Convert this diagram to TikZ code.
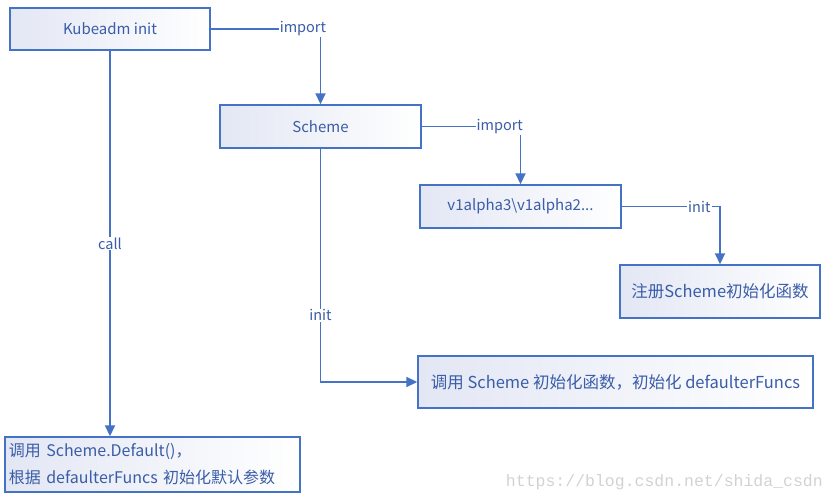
\documentclass[tikz,border=0pt]{standalone}
\usepackage{fontspec}
\setmainfont{Noto Sans CJK SC}
\newfontfamily\wmfont{Liberation Mono}
\usetikzlibrary{arrows.meta}
\definecolor{lineblue}{HTML}{4472C4}
\definecolor{textblue}{HTML}{3A5DA8}
\definecolor{boxfill}{HTML}{E3E7F4}
\definecolor{wmgray}{HTML}{D2D2D2}
\tikzset{
  box/.style={draw=lineblue, line width=1.4pt, left color=boxfill, right color=white,
    text=textblue, font=\fontsize{15}{18}\selectfont, inner sep=0pt, align=center},
  cjkbox/.style={box, font=\fontsize{16.5}{19}\selectfont},
  conn/.style={draw=lineblue, line width=1.8pt, -{Triangle[length=11pt,width=10pt]}},
  lbl/.style={fill=white, text=textblue, font=\fontsize{14.5}{17}\selectfont, inner sep=1pt}
}
\begin{document}
\begin{tikzpicture}[x=1pt,y=-1pt]
\useasboundingbox (0,0) rectangle (833,502);
\node[box, minimum width=200pt, minimum height=42pt] (kube) at (110,29) {Kubeadm init};
\node[box, minimum width=201pt, minimum height=43pt] (scheme) at (320.5,126.5) {Scheme};
\node[box, minimum width=201pt, minimum height=43pt] (v1) at (520.5,206.5) {v1alpha3\textbackslash v1alpha2...};
\node[cjkbox, minimum width=200pt, minimum height=53pt] (reg) at (720,291.5) {注册Scheme初始化函数};
\node[cjkbox, minimum width=395pt, minimum height=52pt] (call2) at (615.5,382) {调用 Scheme 初始化函数，初始化 defaulterFuncs};
\node[box, minimum width=295pt, minimum height=55pt, align=left, text width=287pt, inner xsep=4pt,
  font=\fontsize{16}{27}\selectfont] (def) at (152.5,464.5) {调用 Scheme.Default()，\\根据 defaulterFuncs 初始化默认参数};

\draw[conn] (kube.east) -| node[lbl, pos=0.42] {import} (scheme.north);
\draw[conn] (scheme.east) -| node[lbl, pos=0.395] {import} (v1.north);
\draw[conn] (v1.east) -| node[lbl, pos=0.395] {init} (reg.north);
\draw[conn] (kube.south) -- node[lbl] {call} (kube.south |- def.north);
\draw[conn] (scheme.south) |- node[lbl, pos=0.357] {init} (call2.west);

\node[text=wmgray, font=\wmfont\fontsize{16.5}{18}\selectfont, anchor=east, inner sep=0pt] (wm) at (823,482) {https://blog.csdn.net/shida\_csdn};
\end{tikzpicture}
\end{document}
